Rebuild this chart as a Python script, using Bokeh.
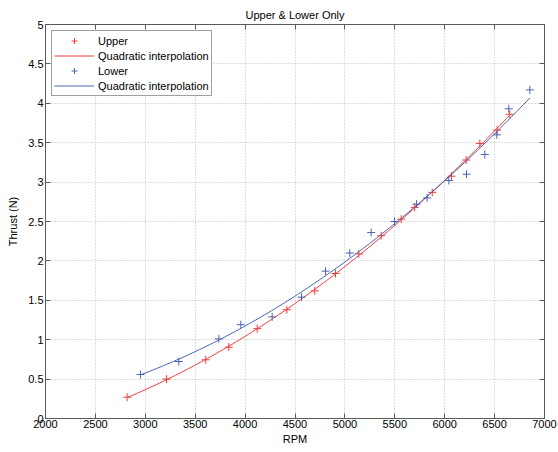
import numpy as np
from bokeh.plotting import figure
from bokeh.models import (Range1d, LinearAxis, FixedTicker, Legend, LegendItem,
                          CustomJSTickFormatter)
from bokeh.embed import file_html
from bokeh.resources import INLINE

# Data
upper_rpm = [2818, 3212, 3606, 3837, 4121, 4418, 4698, 4906, 5139, 5364,
             5564, 5700, 5875, 6068, 6215, 6352, 6526, 6652]
upper_thrust = [0.27, 0.50, 0.745, 0.905, 1.14, 1.38, 1.62, 1.84, 2.09, 2.32,
                2.53, 2.68, 2.87, 3.075, 3.28, 3.49, 3.66, 3.86]
lower_rpm = [2952, 3336, 3737, 3957, 4271, 4565, 4806, 5049, 5263, 5497,
             5717, 5824, 6041, 6218, 6402, 6522, 6642, 6853]
lower_thrust = [0.558, 0.723, 1.01, 1.19, 1.29, 1.54, 1.87, 2.10, 2.36, 2.50,
                2.72, 2.80, 3.02, 3.10, 3.35, 3.60, 3.93, 4.17]

x_ticks = [2000, 2500, 3000, 3500, 4000, 4500, 5000, 5500, 6000, 6500, 7000]
y_ticks = [0, 0.5, 1, 1.5, 2, 2.5, 3, 3.5, 4, 4.5, 5]

RED = "#f03c3c"
BLUE = "#4a64b4"
FONT = "Liberation Sans"
AXIS_COLOR = "#5a5a5a"

# quadratic fits of each series (as in the original "Quadratic interpolation")
cu = np.polyfit(upper_rpm, upper_thrust, 2)
cl = np.polyfit(lower_rpm, lower_thrust, 2)
xu = np.linspace(min(upper_rpm), max(upper_rpm), 120)
xl = np.linspace(min(lower_rpm), max(lower_rpm), 120)
yu = np.polyval(cu, xu)
yl = np.polyval(cl, xl)

p = figure(width=558, height=452, output_backend="svg", toolbar_location=None,
           x_range=Range1d(2000, 7000), y_range=Range1d(0, 5),
           min_border_left=45, min_border_right=14, min_border_top=24,
           min_border_bottom=34, title="Upper & Lower Only",
           background_fill_color="white", border_fill_color="white")

p.title.align = "center"
p.title.text_font = FONT
p.title.text_font_size = "11px"
p.title.text_font_style = "normal"
p.title.text_color = "black"
p.title.offset = 0
p.title.standoff = 7

p.outline_line_color = AXIS_COLOR
p.outline_line_width = 1

for ax in [p.xaxis[0], p.yaxis[0]]:
    ax.axis_line_color = AXIS_COLOR
    ax.major_tick_line_color = AXIS_COLOR
    ax.major_tick_in = 5
    ax.major_tick_out = 0
    ax.minor_tick_line_color = None
    ax.major_label_text_font = FONT
    ax.major_label_text_font_size = "11px"
    ax.major_label_text_color = "black"
    ax.axis_label_text_font = FONT
    ax.axis_label_text_font_size = "11px"
    ax.axis_label_text_font_style = "normal"
    ax.axis_label_text_color = "black"

p.xaxis[0].ticker = FixedTicker(ticks=x_ticks)
p.yaxis[0].ticker = FixedTicker(ticks=y_ticks)
p.xaxis[0].axis_label = "RPM"
p.yaxis[0].axis_label = "Thrust (N)"
p.xaxis[0].major_label_standoff = 1
p.xaxis[0].axis_label_standoff = 2
p.yaxis[0].major_label_standoff = 2
p.yaxis[0].axis_label_standoff = 6

# mirrored ticks on top and right (box on)
empty = CustomJSTickFormatter(code="return '';")
top = LinearAxis(ticker=FixedTicker(ticks=x_ticks), formatter=empty)
right = LinearAxis(ticker=FixedTicker(ticks=y_ticks), formatter=empty)
for ax in [top, right]:
    ax.axis_line_color = AXIS_COLOR
    ax.major_tick_line_color = AXIS_COLOR
    ax.major_tick_in = 5
    ax.major_tick_out = 0
    ax.minor_tick_line_color = None
    ax.major_label_text_font_size = "1px"
    ax.major_label_standoff = 0
p.add_layout(top, "above")
p.add_layout(right, "right")

p.xgrid.ticker = FixedTicker(ticks=x_ticks)
p.ygrid.ticker = FixedTicker(ticks=y_ticks)
for g in [p.xgrid[0], p.ygrid[0]]:
    g.grid_line_color = "#bdbdbd"
    g.grid_line_dash = "1 2"
    g.grid_line_width = 1

r_up = p.scatter(upper_rpm, upper_thrust, marker="cross", size=8,
                 line_color=RED, line_width=1)
r_upfit = p.line(xu, yu, line_color=RED, line_width=1)
r_lo = p.scatter(lower_rpm, lower_thrust, marker="cross", size=8,
                 line_color=BLUE, line_width=1)
r_lofit = p.line(xl, yl, line_color=BLUE, line_width=1)

legend = Legend(items=[
    LegendItem(label="Upper", renderers=[r_up]),
    LegendItem(label="Quadratic interpolation", renderers=[r_upfit]),
    LegendItem(label="Lower", renderers=[r_lo]),
    LegendItem(label="Quadratic interpolation", renderers=[r_lofit]),
], location="top_left")
legend.margin = 6
legend.padding = 2
legend.spacing = 0
legend.glyph_width = 40
legend.glyph_height = 15
legend.label_height = 15
legend.label_standoff = 4
legend.label_text_font = FONT
legend.label_text_font_size = "11px"
legend.label_text_color = "black"
legend.border_line_color = "#404040"
legend.border_line_width = 1
legend.background_fill_color = "white"
legend.background_fill_alpha = 1
p.add_layout(legend, "center")

open("out.html", "w").write(file_html(p, INLINE))
